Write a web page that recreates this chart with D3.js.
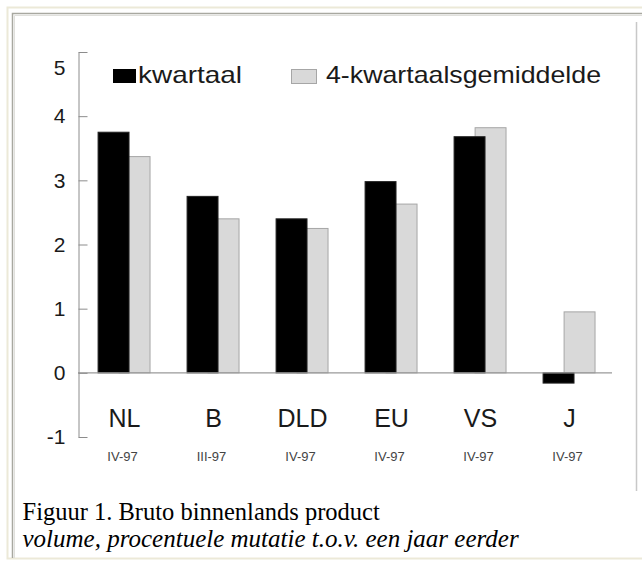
<!DOCTYPE html>
<html>
<head>
<meta charset="utf-8">
<script src="https://cdn.jsdelivr.net/npm/d3@7"></script>
<style>
body { margin: 0; background: #fff; }
</style>
</head>
<body>
<div id="chart"></div>
<script>
// data
var landen = ["NL", "B", "DLD", "EU", "VS", "J"];
var perioden = ["IV-97", "III-97", "IV-97", "IV-97", "IV-97", "IV-97"];
var kwartaal = [3.75, 2.75, 2.40, 2.98, 3.68, -0.16];
var gemiddelde = [3.37, 2.40, 2.25, 2.63, 3.82, 0.95];
var reeksen = ["gemiddelde", "kwartaal"];
var yTicks = [-1, 0, 1, 2, 3, 4, 5];

var width = 642, height = 561;

var svg = d3.select("#chart").append("svg")
	.attr("width", width)
	.attr("height", height)
	.style("display", "block");

// frame (table cell + inset box)
svg.append("rect")
	.attr("x", 7.5).attr("y", 7.5)
	.attr("width", 640).attr("height", 551)
	.style("fill", "none")
	.style("stroke", "#ece9d8")
	.style("stroke-width", 2);
svg.append("path")
	.attr("d", "M12.5,558 V13.5 H642")
	.style("fill", "none")
	.style("stroke", "#a8a8a0")
	.style("stroke-width", 1.5);
svg.append("path")
	.attr("d", "M14.5,558 V15.5 H642")
	.style("fill", "none")
	.style("stroke", "#e0e0dc")
	.style("stroke-width", 1);
svg.append("line")
	.attr("x1", 636.5).attr("y1", 22)
	.attr("x2", 636.5).attr("y2", 491)
	.style("stroke", "#c8c8c8")
	.style("stroke-width", 1.5);

var plot = { left: 78, right: 612, top: 52, bottom: 437 };

var y = d3.scaleLinear().domain([-1, 5]).range([plot.bottom, plot.top]);
var x0 = d3.scaleBand().domain(d3.range(landen.length)).range([plot.left, plot.right]);
var x1 = d3.scaleBand().domain(["kwartaal", "gemiddelde"])
	.range([x0.bandwidth() * 0.22, x0.bandwidth() * 0.815])
	.paddingInner(-0.52);

var g = svg.append("g");

// bars: grey series behind, black in front
var series = {
	gemiddelde: { values: gemiddelde, fill: "#d9d9d9", stroke: "#a6a6a6" },
	kwartaal: { values: kwartaal, fill: "#000", stroke: "#222" }
};

reeksen.forEach(function(key){
	var s = series[key];
	g.selectAll(".bar_" + key).data(s.values)
		.enter()
		.append("rect")
		.attr("class", "bar_" + key)
		.attr("x", function(d, i){ return x0(i) + x1(key) + 0.5; })
		.attr("y", function(d){ return Math.min(y(d), y(0)); })
		.attr("width", x1.bandwidth() - 1)
		.attr("height", function(d){ return Math.abs(y(d) - y(0)); })
		.style("fill", s.fill)
		.style("stroke", s.stroke)
		.style("stroke-width", 1);
});

// zero line
g.append("line")
	.attr("x1", plot.left).attr("y1", y(0))
	.attr("x2", plot.right).attr("y2", y(0))
	.style("stroke", "#9a9a9a")
	.style("stroke-width", 1.2);

// y axis, ticks pointing inward
var yAxis = d3.axisLeft(y)
	.tickValues(yTicks)
	.tickFormat(function(d){ return String(d); })
	.tickSizeInner(-9).tickSizeOuter(0).tickPadding(13);
var ya = svg.append("g")
	.attr("transform", "translate(" + (plot.left + 0.5) + ",0)")
	.call(yAxis);
ya.select(".domain").style("stroke", "#8c8c8c");
ya.selectAll(".tick line").style("stroke", "#8c8c8c");
ya.selectAll(".tick text")
	.style("font-family", "'Liberation Sans', Arial, sans-serif")
	.style("font-size", "21px")
	.style("fill", "#1a1a1a");
// top label sits lower than its tick in the original
ya.selectAll(".tick text").filter(function(d){ return d == 5; }).attr("dy", "1.05em");

// category labels
var cats = svg.append("g");
cats.selectAll(".land").data(landen)
	.enter()
	.append("text")
	.attr("class", "land")
	.attr("x", function(d, i){ return x0(i) + x0.bandwidth() / 2 + 2; })
	.attr("y", 427)
	.style("text-anchor", "middle")
	.style("font-family", "'Liberation Sans', Arial, sans-serif")
	.style("font-size", "25px")
	.style("fill", "#1a1a1a")
	.text(function(d){ return d; });

cats.selectAll(".periode").data(perioden)
	.enter()
	.append("text")
	.attr("class", "periode")
	.attr("x", function(d, i){ return x0(i) + x0.bandwidth() / 2; })
	.attr("y", 461)
	.style("text-anchor", "middle")
	.style("font-family", "'Liberation Sans', Arial, sans-serif")
	.style("font-size", "13px")
	.style("fill", "#444")
	.text(function(d){ return d; });

// legend
var legend = svg.append("g");
legend.append("rect")
	.attr("x", 113).attr("y", 69)
	.attr("width", 23).attr("height", 14)
	.style("fill", "#000");
legend.append("text")
	.attr("x", 138).attr("y", 83)
	.attr("textLength", 104)
	.attr("lengthAdjust", "spacingAndGlyphs")
	.style("font-family", "'Liberation Sans', Arial, sans-serif")
	.style("font-size", "24px")
	.style("fill", "#1a1a1a")
	.text("kwartaal");
legend.append("rect")
	.attr("x", 291.5).attr("y", 69.5)
	.attr("width", 25).attr("height", 14)
	.style("fill", "#d9d9d9")
	.style("stroke", "#a6a6a6");
legend.append("text")
	.attr("x", 326).attr("y", 83)
	.attr("textLength", 275)
	.attr("lengthAdjust", "spacingAndGlyphs")
	.style("font-family", "'Liberation Sans', Arial, sans-serif")
	.style("font-size", "24px")
	.style("fill", "#1a1a1a")
	.text("4-kwartaalsgemiddelde");

// caption
svg.append("text")
	.attr("x", 22.5).attr("y", 520)
	.style("font-family", "'Liberation Serif', 'Times New Roman', serif")
	.style("font-size", "24.5px")
	.style("fill", "#000")
	.text("Figuur 1. Bruto binnenlands product");
svg.append("text")
	.attr("x", 22.5).attr("y", 547)
	.style("font-family", "'Liberation Serif', 'Times New Roman', serif")
	.style("font-size", "25px")
	.style("font-style", "italic")
	.style("fill", "#000")
	.text("volume, procentuele mutatie t.o.v. een jaar eerder");
</script>
</body>
</html>
